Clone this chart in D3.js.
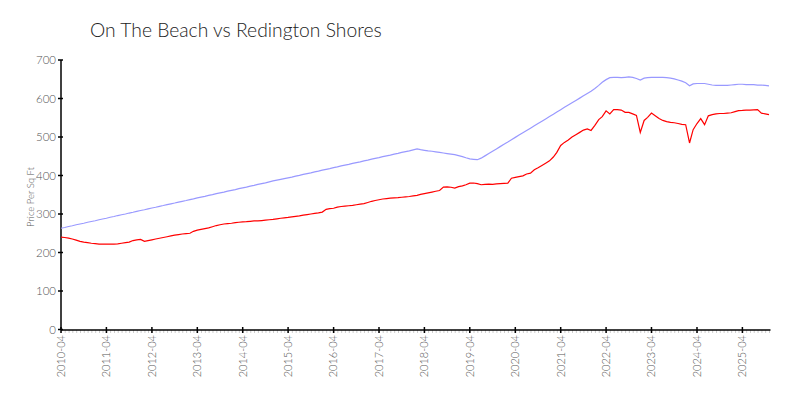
<!DOCTYPE html>
<html><head><meta charset="utf-8">
<script src="https://cdn.jsdelivr.net/npm/d3@7"></script>
<style>
body{margin:0;background:#fff;}
text{font-family:"Lato","Open Sans",sans-serif;}
</style></head>
<body><svg id="c" width="800" height="400"></svg>
<script>
const title = "On The Beach vs Redington Shores";
const yLabel = "Price Per Sq Ft";
const startMonth = "2010-04";
const endMonth = "2025-11";
const xTickLabels = ["2010-04","2011-04","2012-04","2013-04","2014-04","2015-04","2016-04","2017-04","2018-04","2019-04","2020-04","2021-04","2022-04","2023-04","2024-04","2025-04"];
const yTicks = [0,100,200,300,400,500,600,700];

const blueValues = [
263,265,267.5,269.5,272,274,276,278.5,280.5,282.5,285,287,
289,291.5,293.5,296,298,300,302.5,304.5,307,309,311,313.5,
315.5,317.5,320,322,324.5,326.5,328.5,331,333,335,337.5,339.5,
342,344,346,348.5,350.5,353,355,357,359.5,361.5,363.5,366,
368,370,372.5,374.5,377,379,381,383.5,386,388,390,392,
394,396,398.5,400.5,403,405,407,409.5,411.5,414,416,418,
420.5,422.5,425,427,429,431.5,433.5,435.5,438,440,442.5,444.5,
446.5,449,451,453,455.5,457.5,460,462,464,466.5,469,467,
465.5,464,463,461.5,460,458.5,457,455.5,454,451.5,449,446,
443,442,441,445,451,457,463,469,475,481,487,493,
499,505,511,517,523,529,535,541,547,553,559,565,
571,577,583,589,595,601,607,613,619,626,634,642,
649,654,655,655,654,655,656,655,652,648,653,654,
655,655,655,655,654,653,651,648,645,641,633,638,
639,639,639,637,635,634,634,634,634,635,636,637,
637,636,636,636,635,635,634,633];

const redValues = [
240,239,237.5,235,232,229,227,225.5,224,223,222,221.5,
221.5,222,222,222.5,224,225.5,227,231,233,234,229,231,
233,235,237,239,241,243,245,246.5,248,249,250,255,
258,260,262,264,267,270,272,274,275,276,277.5,278.5,
279.5,280,281,282,282,283,284,285,286,287.5,289,290,
291,292.5,294,295,297,298.5,300,301.5,303,305,312,314,
315,318,319.5,320.5,321.5,322.5,324,325.5,327,330,333,335,
337,339,340,341,342,342.5,343.5,344.5,345.5,347,348.5,351,
353,355,357,359,361,370,370.5,369.5,367.5,371,373,376,
380,380.5,379,376,377,377.5,377,378,379,379.5,380,393,
395,397,399,404,406,415,420,426,432,438,448,460,
478,486,492,500,506,512,518,521,517,530,545,553,
568,560,571,571,570,564,564,560,556,512,543,551,
562,555,548,543,540,538,537,535,533,532,484.5,519,
535,547.7,532,555,558,560,561,561,562,563,566,568.6,
569,570,570,570.5,571,562,560,558];

const parse = d3.timeParse("%Y-%m");
const fmt = d3.timeFormat("%Y-%m");
const months = d3.timeMonth.range(parse(startMonth), d3.timeMonth.offset(parse(endMonth),1));
const blue = months.map((d,i)=>({date:d, v:blueValues[i]}));
const red = months.map((d,i)=>({date:d, v:redValues[i]}));

const svg = d3.select("#c");
const x = d3.scaleTime().domain([parse(startMonth), parse(endMonth)]).range([61, 769]);
const y = d3.scaleLinear().domain([0,700]).range([329.5, 60]);

svg.append("text").attr("x",90).attr("y",37).attr("font-size",19.3).attr("font-weight",300)
  .attr("fill","#222").text(title);

// minor monthly ticks
svg.append("g").selectAll("line").data(months).join("line")
  .attr("x1",d=>x(d)+0.5).attr("x2",d=>x(d)+0.5).attr("y1",330).attr("y2",333)
  .attr("stroke","#ccc").attr("stroke-width",1);

// x axis
const xg = svg.append("g").attr("transform","translate(0,330)");
xg.append("line").attr("x1",61).attr("x2",770.5).attr("y1",0).attr("y2",0).attr("stroke","#000").attr("stroke-width",1.5);
const xt = xg.selectAll("g.t").data(xTickLabels.map(parse)).join("g").attr("class","t")
  .attr("transform",d=>`translate(${x(d)},0)`);
xt.append("line").attr("y1",-3).attr("y2",3).attr("stroke","#000").attr("stroke-width",1.5);
xt.append("text").attr("transform","rotate(-90)").attr("x",-5).attr("y",0).attr("dy","0.35em")
  .attr("text-anchor","end").attr("font-size",11).attr("font-weight",300).attr("fill","#555").text(d=>fmt(d));

// y axis
const yg = svg.append("g");
yg.append("line").attr("x1",61).attr("x2",61).attr("y1",60).attr("y2",330).attr("stroke","#000").attr("stroke-width",1.5);
const yt = yg.selectAll("g.t").data(yTicks).join("g").attr("class","t")
  .attr("transform",d=>`translate(61,${y(d)})`);
yt.append("line").attr("x1",-3).attr("x2",2).attr("stroke","#000").attr("stroke-width",1.5);
yt.append("text").attr("x",-5).attr("dy","0.35em").attr("text-anchor","end")
  .attr("font-size",11.5).attr("font-weight",300).attr("fill","#555").text(d=>d);

svg.append("text").attr("transform","translate(34,197) rotate(-90)").attr("text-anchor","middle")
  .attr("font-size",9.5).attr("font-weight",300).attr("fill","#555").text(yLabel);

const line = d3.line().x(d=>x(d.date)).y(d=>y(d.v));
svg.append("path").datum(blue).attr("d",line).attr("fill","none").attr("stroke","#9999ff").attr("stroke-width",1.2);
svg.append("path").datum(red).attr("d",line).attr("fill","none").attr("stroke","#ff0000").attr("stroke-width",1.2);
</script></body></html>
